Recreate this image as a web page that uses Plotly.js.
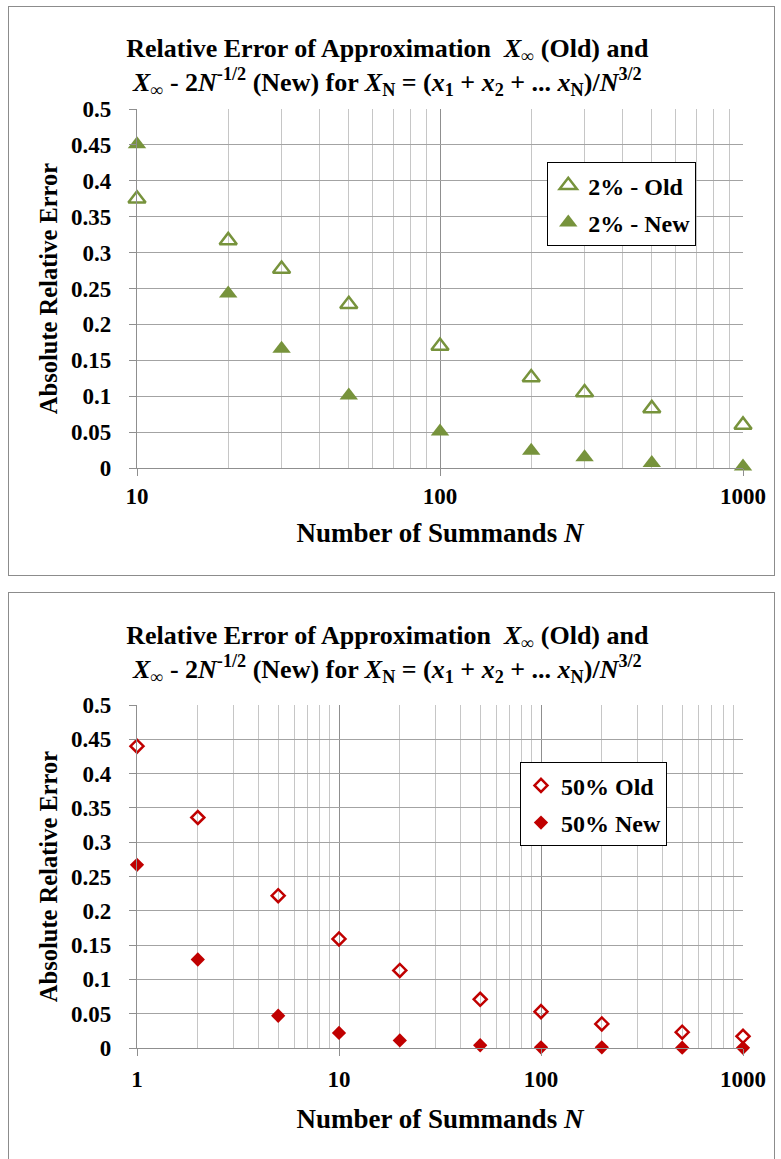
<!DOCTYPE html>
<html><head><meta charset="utf-8">
<script src="https://cdn.plot.ly/plotly-3.0.1.min.js"></script>
<style>
body{margin:0;background:#fff;width:781px;height:1159px;overflow:hidden;position:relative}
.box{position:absolute;left:8px;width:767px;border:1.5px solid #8c8c8c;box-sizing:border-box;background:#fff}
#box1{top:6px;height:570px}
#box2{top:592px;height:620px}
.plot{position:absolute;left:0;width:781px}
#p1{top:0;height:580px}
#p2{top:587px;height:572px}
</style></head><body>
<div class="box" id="box1"></div>
<div class="box" id="box2"></div>
<div class="plot" id="p1"></div>
<div class="plot" id="p2"></div>
<script>
// ---- data ----
const nTop = [10, 20, 30, 50, 100, 200, 300, 500, 1000];
const oldTop = [0.375, 0.317, 0.277, 0.228, 0.170, 0.126, 0.105, 0.083, 0.060];
const newTop = [0.451, 0.243, 0.166, 0.101, 0.051, 0.024, 0.015, 0.007, 0.002];
const nameTopOld = "2% - Old";
const nameTopNew = "2% - New";

const nBot = [1, 2, 5, 10, 20, 50, 100, 200, 500, 1000];
const oldBot = [0.440, 0.336, 0.222, 0.159, 0.113, 0.071, 0.053, 0.035, 0.023, 0.017];
const newBot = [0.267, 0.129, 0.047, 0.022, 0.011, 0.004, 0.001, 0.001, 0.0005, 0.0003];
const nameBotOld = "50% Old";
const nameBotNew = "50% New";

const xTickValsTop = [10, 100, 1000];
const xTickTextTop = ["10", "100", "1000"];
const xTickValsBot = [1, 10, 100, 1000];
const xTickTextBot = ["1", "10", "100", "1000"];

const titleText = "Relative Error of Approximation\u00A0\u00A0<i>X</i><sub>\u221E</sub> (Old) and<br>" +
  "<i>X</i><sub>\u221E</sub> - 2<i>N</i><sup>-1/2</sup> (New) for <i>X</i><sub>N</sub> = (<i>x</i><sub>1</sub> + <i>x</i><sub>2</sub> + ... <i>x</i><sub>N</sub>)/<i>N</i><sup>3/2</sup>";
const yTitle = "Absolute Relative Error";
const xTitle = "Number of Summands <i>N</i>";

const FAM = "Liberation Serif";
const GREEN = "#77933C";
const RED = "#C00000";

function font(size) { return {family: FAM, size: size, color: "#000", weight: "bold"}; }

function layoutFor(h, t, b, xrange, tv, tt, lx, ly, xstand, tlstand) {
  return {
    width: 781, height: h,
    margin: {l: 137, r: 38, t: t, b: b, pad: 0},
    paper_bgcolor: "rgba(0,0,0,0)", plot_bgcolor: "rgba(0,0,0,0)",
    showlegend: true,
    title: {text: titleText, font: font(26), x: 0.496, xref: "container", xanchor: "center",
            y: 1 - 57 / h, yref: "container", yanchor: "top"},
    xaxis: {
      type: "log", range: xrange, tickmode: "array", tickvals: tv, ticktext: tt,
      showgrid: true, gridcolor: "#8f8f8f", gridwidth: 1,
      showline: true, linecolor: "#8f8f8f", linewidth: 1.2,
      ticks: "outside", ticklen: 7, tickcolor: "#8f8f8f", tickwidth: 1,
      tickfont: font(23), zeroline: false, ticklabelstandoff: tlstand,
      minor: {dtick: "D1", showgrid: true, gridcolor: "#c6c6c6", gridwidth: 1, ticks: ""},
      title: {text: xTitle, font: font(27), standoff: xstand}
    },
    yaxis: {
      range: [0, 0.5], dtick: 0.05, tick0: 0,
      showgrid: true, gridcolor: "#a3a3a3", gridwidth: 1,
      showline: true, linecolor: "#8f8f8f", linewidth: 1.2,
      ticks: "outside", ticklen: 7, tickcolor: "#8f8f8f",
      tickfont: font(23), zeroline: false, ticklabelstandoff: 13,
      title: {text: yTitle, font: font(24.5), standoff: 6}
    },
    legend: {x: lx, y: ly, xanchor: "left", yanchor: "top", bgcolor: "#fff",
             bordercolor: "#000", borderwidth: 1, font: font(24),
             traceorder: "grouped", tracegroupgap: 3}
  };
}

const tracesTop = [
  {x: nTop, y: oldTop, name: nameTopOld, legendgroup: "a", type: "scatter", mode: "markers", cliponaxis: false,
   marker: {symbol: "triangle-up-open", size: 15, color: GREEN, line: {width: 2.5, color: GREEN}}},
  {x: nTop, y: newTop, name: nameTopNew, legendgroup: "b", type: "scatter", mode: "markers", cliponaxis: false,
   marker: {symbol: "triangle-up", size: 16, color: GREEN}}
];
const tracesBot = [
  {x: nBot, y: oldBot, name: nameBotOld, legendgroup: "a", type: "scatter", mode: "markers", cliponaxis: false,
   marker: {symbol: "diamond-open", size: 10, color: RED, line: {width: 2.5, color: RED}}},
  {x: nBot, y: newBot, name: nameBotNew, legendgroup: "b", type: "scatter", mode: "markers", cliponaxis: false,
   marker: {symbol: "diamond", size: 11, color: RED}}
];

Plotly.newPlot("p1", tracesTop, layoutFor(580, 109, 112, [1, 3], xTickValsTop, xTickTextTop, 0.677, 0.852, 15, 0), {displayModeBar: false, staticPlot: true});
Plotly.newPlot("p2", tracesBot, layoutFor(572, 118, 111, [0, 3], xTickValsBot, xTickTextBot, 0.632, 0.833, 18, 3), {displayModeBar: false, staticPlot: true});
</script>
</body></html>
